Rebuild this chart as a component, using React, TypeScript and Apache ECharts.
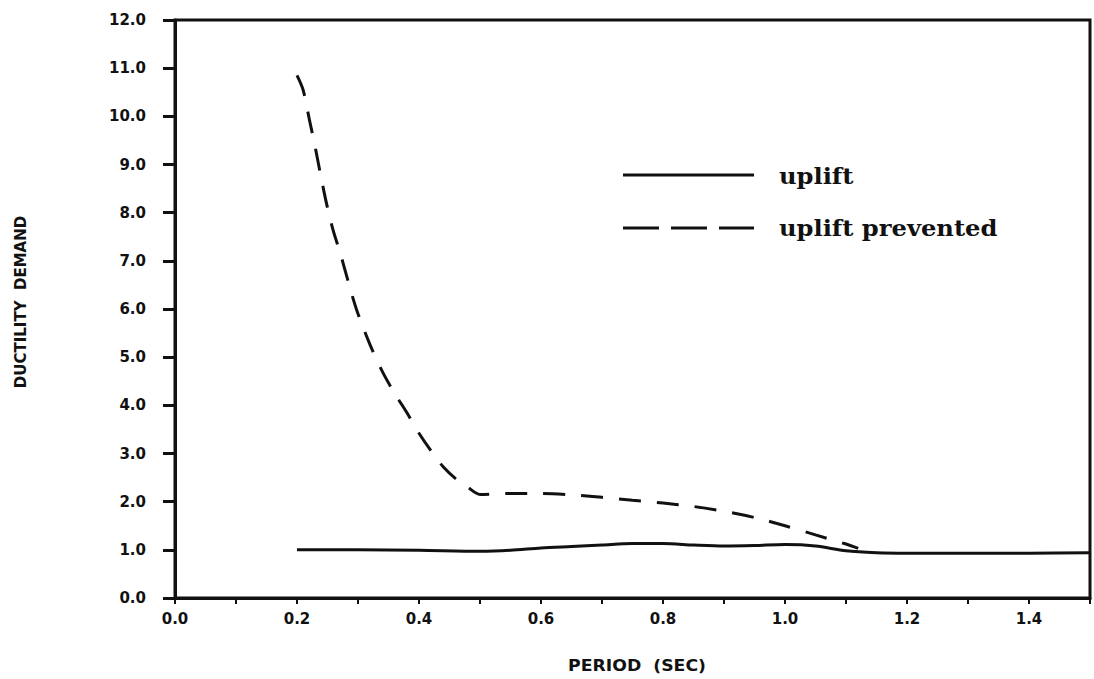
import React, { useEffect, useRef } from "react";
import * as echarts from "echarts";

// Period (sec) and ductility demand — "uplift prevented" (dashed)
const periodPrevented = [0.2, 0.21, 0.22, 0.23, 0.24, 0.25, 0.26, 0.27, 0.28, 0.29, 0.3, 0.32, 0.34, 0.36, 0.38, 0.4, 0.42, 0.44, 0.46, 0.48, 0.5, 0.55, 0.6, 0.65, 0.7, 0.75, 0.8, 0.85, 0.9, 0.95, 1.0, 1.05, 1.1, 1.12];
const demandPrevented = [10.85, 10.55, 9.95, 9.35, 8.7, 8.1, 7.6, 7.2, 6.75, 6.3, 5.9, 5.25, 4.7, 4.25, 3.85, 3.42, 3.05, 2.72, 2.48, 2.3, 2.15, 2.17, 2.17, 2.14, 2.09, 2.03, 1.97, 1.9, 1.8, 1.67, 1.5, 1.31, 1.12, 1.03];

// "uplift" (solid)
const periodUplift = [0.2, 0.3, 0.4, 0.5, 0.55, 0.6, 0.65, 0.7, 0.75, 0.8, 0.85, 0.9, 0.95, 1.0, 1.05, 1.1, 1.15, 1.2, 1.3, 1.4, 1.5];
const demandUplift = [1.0, 1.0, 0.99, 0.97, 0.99, 1.04, 1.07, 1.1, 1.13, 1.13, 1.1, 1.08, 1.09, 1.11, 1.08, 0.98, 0.94, 0.93, 0.93, 0.93, 0.94];

const yTickLabels = ["0.0", "1.0", "2.0", "3.0", "4.0", "5.0", "6.0", "7.0", "8.0", "9.0", "10.0", "11.0", "12.0"];
const xTickLabels = ["0.0", "", "0.2", "", "0.4", "", "0.6", "", "0.8", "", "1.0", "", "1.2", "", "1.4", ""];

const seriesNames = ["uplift", "uplift prevented"];
const xTitle = "PERIOD  (SEC)";
const yTitle = "DUCTILITY  DEMAND";

const INK = "#111111";

export default function App() {
  const ref = useRef<HTMLDivElement>(null);

  useEffect(() => {
    if (!ref.current) return;
    const chart = echarts.init(ref.current, undefined, { renderer: "svg" });
    chart.setOption({
      animation: false,
      backgroundColor: "#ffffff",
      grid: {
        left: 175,
        right: 4,
        top: 20,
        bottom: 81,
        show: true,
        borderColor: INK,
        borderWidth: 3,
      },
      xAxis: {
        type: "value",
        min: 0,
        max: 1.5,
        interval: 0.1,
        axisLine: { show: true, lineStyle: { color: INK, width: 3 } },
        axisTick: { show: true, length: 6, lineStyle: { color: INK, width: 2 } },
        axisLabel: {
          fontFamily: "DejaVu Sans",
          fontWeight: "bold",
          fontSize: 15,
          color: INK,
          margin: 13,
          formatter: (v: number) => xTickLabels[Math.round(v * 10)] ?? "",
        },
        splitLine: { show: false },
      },
      yAxis: {
        type: "value",
        min: 0,
        max: 12,
        interval: 1,
        axisLine: { show: true, lineStyle: { color: INK, width: 3 } },
        axisTick: { show: true, length: 12, lineStyle: { color: INK, width: 3 } },
        axisLabel: {
          fontFamily: "DejaVu Sans",
          fontWeight: "bold",
          fontSize: 15,
          color: INK,
          margin: 29,
          formatter: (v: number) => yTickLabels[Math.round(v)] ?? "",
        },
        splitLine: { show: false },
      },
      series: [
        {
          name: seriesNames[0],
          type: "line",
          data: periodUplift.map((p, i) => [p, demandUplift[i]]),
          smooth: 0.3,
          symbol: "none",
          lineStyle: { color: INK, width: 3, type: "solid" },
        },
        {
          name: seriesNames[1],
          type: "line",
          data: periodPrevented.map((p, i) => [p, demandPrevented[i]]),
          smooth: 0.3,
          symbol: "none",
          lineStyle: { color: INK, width: 3, type: [22, 16] },
        },
      ],
      graphic: [
        {
          type: "line",
          shape: { x1: 623, y1: 175, x2: 754, y2: 175 },
          style: { stroke: INK, lineWidth: 3 },
        },
        {
          type: "text",
          x: 779,
          y: 176,
          scaleX: 1.1,
          style: { text: seriesNames[0], font: "bold 22px 'DejaVu Serif'", fill: INK, verticalAlign: "middle" },
        },
        {
          type: "line",
          shape: { x1: 623, y1: 228, x2: 754, y2: 228 },
          style: { stroke: INK, lineWidth: 3, lineDash: [36, 12] },
        },
        {
          type: "text",
          x: 779,
          y: 228,
          scaleX: 1.1,
          style: { text: seriesNames[1], font: "bold 22px 'DejaVu Serif'", fill: INK, verticalAlign: "middle" },
        },
        {
          type: "text",
          x: 637,
          y: 666,
          scaleX: 1.08,
          style: { text: xTitle, font: "bold 16px 'DejaVu Sans'", fill: INK, align: "center", verticalAlign: "middle" },
        },
        {
          type: "text",
          x: 21,
          y: 302,
          rotation: Math.PI / 2,
          style: { text: yTitle, font: "bold 15px 'DejaVu Sans'", fill: INK, align: "center", verticalAlign: "middle" },
        },
      ],
    });
    return () => chart.dispose();
  }, []);

  return (
    <div
      ref={ref}
      style={{ position: "absolute", left: 0, top: 0, width: 1094, height: 679, background: "#fff" }}
    />
  );
}
